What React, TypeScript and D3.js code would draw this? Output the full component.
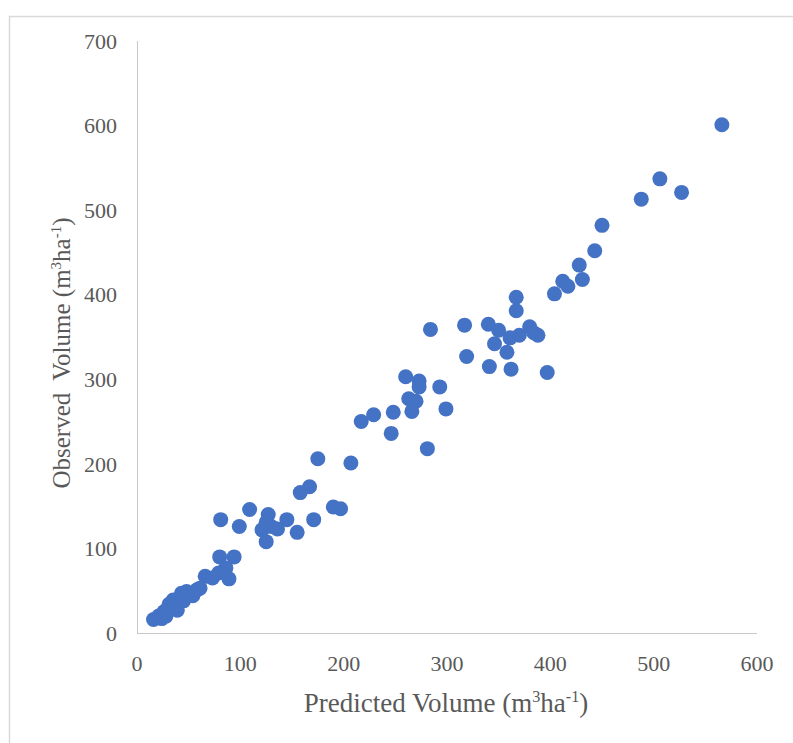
import * as d3 from "d3";
import { useEffect, useRef } from "react";

// predicted vs observed volume (m3/ha)
const predicted = [
  566, 506, 527, 488, 450, 443, 428, 431, 412, 417, 404, 367, 367, 284, 317, 340,
  350, 346, 361, 370, 380, 384, 388, 358, 319, 341, 362, 397, 260, 273, 273, 293,
  263, 270, 266, 299, 248, 229, 217, 246, 281, 175, 207, 167, 158, 190, 197, 171,
  145, 81, 109, 99, 127, 121, 130, 125, 136, 155, 125, 80, 94, 86, 89, 79,
  66, 73, 61, 48, 43, 54, 35, 31, 39, 26, 21, 16, 24, 28, 45, 58,
];
const observed = [
  601, 537, 521, 513, 482, 452, 435, 418, 416, 410, 401, 397, 381, 359, 364, 365,
  358, 342, 349, 352, 362, 355, 352, 332, 327, 315, 312, 308, 303, 298, 291, 291,
  277, 274, 262, 265, 261, 258, 250, 236, 218, 206, 201, 173, 166, 149, 147, 134,
  134, 134, 146, 126, 140, 122, 126, 108, 123, 119, 131, 90, 90, 77, 64, 71,
  67, 65, 53, 49, 47, 44, 39, 34, 27, 25, 20, 16, 17, 20, 38, 51,
];
const xTicks = [0, 100, 200, 300, 400, 500, 600];
const yTicks = [0, 100, 200, 300, 400, 500, 600, 700];

const App = () => {
  const ref = useRef<SVGSVGElement>(null);

  useEffect(() => {
    const svg = d3.select(ref.current);
    svg.selectAll("*").remove();

    const x = d3.scaleLinear().domain([0, 600]).range([137, 757]);
    const y = d3.scaleLinear().domain([0, 700]).range([633, 41]);
    const font = "'Liberation Serif', 'Times New Roman', serif";
    const grey = "#595959";

    // outer chart frame (only left and top edges show)
    svg.append("path")
      .attr("d", "M9.5,743 V16.5 H793")
      .attr("fill", "none")
      .attr("stroke", "#d9d9d9")
      .attr("stroke-width", 1.5);

    // axis lines
    svg.append("line")
      .attr("x1", x(0)).attr("x2", x(600))
      .attr("y1", y(0) + 0.5).attr("y2", y(0) + 0.5)
      .attr("stroke", "#c8c8c8");
    svg.append("line")
      .attr("x1", x(0) + 0.5).attr("x2", x(0) + 0.5)
      .attr("y1", y(0)).attr("y2", y(700))
      .attr("stroke", "#c8c8c8");

    svg.append("g")
      .attr("font-family", font)
      .attr("font-size", 22)
      .attr("fill", grey)
      .attr("text-anchor", "middle")
      .selectAll("text")
      .data(xTicks)
      .enter().append("text")
      .attr("x", d => x(d))
      .attr("y", 663)
      .attr("dy", "0.35em")
      .text(d => d);

    svg.append("g")
      .attr("font-family", font)
      .attr("font-size", 22)
      .attr("fill", grey)
      .attr("text-anchor", "end")
      .selectAll("text")
      .data(yTicks)
      .enter().append("text")
      .attr("x", 117)
      .attr("y", d => y(d))
      .attr("dy", "0.35em")
      .text(d => d);

    const pts = predicted.map((p, i) => ({ p, o: observed[i] }));
    svg.append("g")
      .selectAll("circle")
      .data(pts)
      .enter().append("circle")
      .attr("cx", d => x(d.p))
      .attr("cy", d => y(d.o))
      .attr("r", 7.5)
      .attr("fill", "#4472c4");

    const title = (g, label, size) => {
      const t = g.append("text")
        .attr("font-family", font)
        .attr("font-size", size)
        .attr("fill", grey)
        .attr("text-anchor", "middle")
        .style("white-space", "pre");
      const sup = size * 0.6, shift = size * 0.36;
      t.append("tspan").text(label + " (m");
      t.append("tspan").attr("font-size", sup).attr("dy", -shift).text("3");
      t.append("tspan").attr("dy", shift).text("ha");
      t.append("tspan").attr("font-size", sup).attr("dy", -shift).text("-1");
      t.append("tspan").attr("dy", shift).text(")");
      return t;
    };

    title(svg.append("g").attr("transform", "translate(446,712)"), "Predicted Volume", 27);
    title(svg.append("g").attr("transform", "translate(70,353) rotate(-90)"), "Observed  Volume", 25);
  }, []);

  return (
    <svg
      ref={ref}
      width={793}
      height={743}
      style={{ position: "absolute", left: 0, top: 0, background: "#fff" }}
    />
  );
};

export default App;
